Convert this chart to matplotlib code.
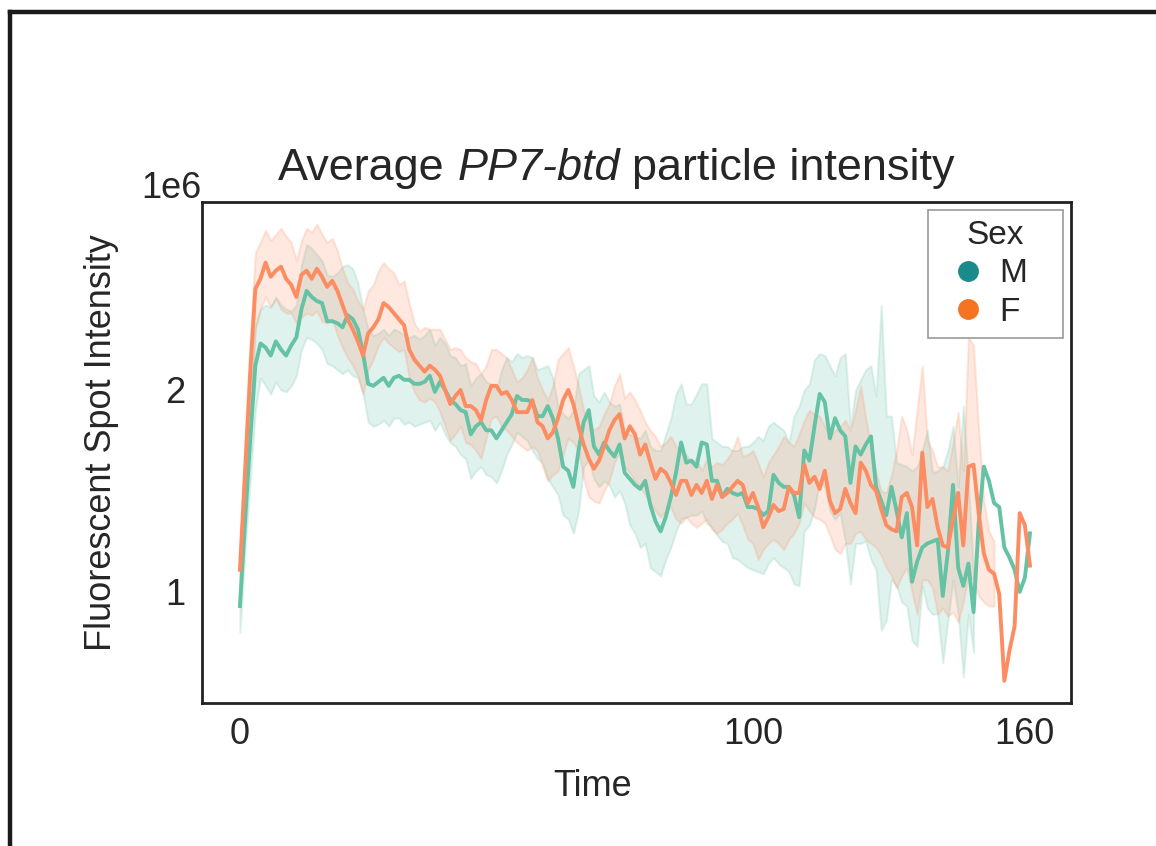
import numpy as np
import matplotlib.pyplot as plt
from matplotlib.lines import Line2D

plt.rcParams['font.family'] = ['Liberation Sans', 'DejaVu Sans']
plt.rcParams['text.color'] = '#262626'
plt.rcParams['axes.labelcolor'] = '#262626'
plt.rcParams['xtick.color'] = '#262626'
plt.rcParams['ytick.color'] = '#262626'

# values in units of 1e6, one per time point
nan = np.nan
time = np.arange(155)

m_mean = [0.93, 1.35, 1.75, 2.12, 2.23, 2.21, 2.17, 2.24, 2.20, 2.17,
          2.22, 2.26, 2.40, 2.49, 2.46, 2.44, 2.43, 2.34, 2.34, 2.33,
          2.31, 2.37, 2.35, 2.30, 2.18, 2.03, 2.02, 2.04, 2.06, 2.02,
          2.06, 2.07, 2.05, 2.05, 2.03, 2.03, 2.04, 2.07, 1.99, 2.04,
          2.00, 1.95, 1.93, 1.90, 1.89, 1.78, 1.82, 1.84, 1.80, 1.80,
          1.76, 1.80, 1.84, 1.88, 1.97, 1.95, 1.95, 1.94, 1.87, 1.87,
          1.92, 1.86, 1.76, 1.62, 1.60, 1.52, 1.70, 1.84, 1.90, 1.72,
          1.68, 1.74, 1.70, 1.67, 1.73, 1.59, 1.56, 1.53, 1.51, 1.55,
          1.43, 1.35, 1.30, 1.37, 1.47, 1.59, 1.74, 1.64, 1.65, 1.62,
          1.74, 1.73, 1.55, 1.55, 1.47, 1.51, 1.49, 1.48, 1.49, 1.42,
          1.42, 1.41, 1.38, 1.40, 1.58, 1.54, 1.52, 1.52, 1.48, 1.37,
          1.70, 1.65, 1.82, 1.98, 1.94, 1.76, 1.86, 1.80, 1.77, 1.54,
          1.72, 1.68, 1.73, 1.77, 1.52, 1.45, 1.38, 1.52, 1.40, 1.27,
          1.39, 1.05, 1.15, 1.22, 1.24, 1.25, 1.26, 0.98, 1.20, 1.53,
          1.12, 1.03, 1.14, 0.90, 1.34, 1.62, 1.55, 1.44, 1.42, 1.22,
          1.17, 1.11, 1.00, 1.07, 1.29]

m_hi = [1.05, 1.50, 1.95, 2.32, 2.40, 2.42, 2.41, 2.46, 2.42, 2.40,
        2.39, 2.42, 2.62, 2.72, 2.70, 2.67, 2.64, 2.57, 2.56, 2.58,
        2.61, 2.62, 2.60, 2.53, 2.40, 2.30, 2.27, 2.28, 2.30, 2.27,
        2.30, 2.29, 2.27, 2.26, 2.27, 2.25, 2.27, 2.30, 2.22, 2.26,
        2.23, 2.17, 2.16, 2.12, 2.13, 2.02, 2.06, 2.08, 2.04, 2.03,
        2.00, 2.10, 2.16, 2.14, 2.18, 2.16, 2.17, 2.16, 2.10, 2.11,
        2.12, 2.06, 1.92, 1.88, 1.86, 1.90, 2.08, 2.10, 2.12, 1.97,
        1.94, 1.99, 1.94, 1.92, 1.93, 1.80, 1.78, 1.77, 1.76, 1.80,
        1.72, 1.70, 1.70, 1.78, 1.86, 1.98, 2.03, 1.93, 1.93, 1.98,
        2.03, 2.03, 1.76, 1.74, 1.72, 1.72, 1.70, 1.70, 1.72, 1.72,
        1.74, 1.77, 1.75, 1.82, 1.84, 1.82, 1.80, 1.74, 1.87, 1.92,
        2.00, 2.03, 2.15, 2.18, 2.17, 2.12, 2.07, 2.16, 2.18, 1.82,
        2.00, 2.05, 2.10, 2.12, 1.97, 2.42, 1.87, 1.87, 1.64, 1.63,
        1.62, 1.60, 1.62, 1.70, 1.80, 1.59, 1.60, 1.62, 1.70, 1.82,
        1.52, 1.92, 1.55, 1.10, nan, nan, nan, nan, nan, nan,
        nan, nan, nan, nan, nan]

m_lo = [0.80, 1.20, 1.55, 1.90, 2.06, 2.02, 1.98, 2.04, 2.00, 1.99,
        2.02, 2.07, 2.20, 2.26, 2.25, 2.23, 2.20, 2.13, 2.12, 2.10,
        2.08, 2.10, 2.07, 2.06, 1.98, 1.84, 1.82, 1.83, 1.85, 1.82,
        1.86, 1.86, 1.83, 1.84, 1.82, 1.83, 1.84, 1.85, 1.80, 1.84,
        1.78, 1.74, 1.72, 1.68, 1.66, 1.56, 1.60, 1.62, 1.58, 1.57,
        1.54, 1.60, 1.68, 1.73, 1.79, 1.77, 1.75, 1.70, 1.66, 1.64,
        1.56, 1.52, 1.48, 1.38, 1.36, 1.29, 1.40, 1.62, 1.65, 1.56,
        1.52, 1.55, 1.53, 1.47, 1.50, 1.44, 1.33, 1.29, 1.22, 1.24,
        1.12, 1.10, 1.08, 1.16, 1.22, 1.30, 1.36, 1.37, 1.38, 1.38,
        1.40, 1.34, 1.32, 1.28, 1.25, 1.24, 1.17, 1.16, 1.14, 1.12,
        1.11, 1.10, 1.09, 1.14, 1.17, 1.14, 1.12, 1.10, 1.04, 1.03,
        1.30, 1.33, 1.41, 1.55, 1.52, 1.40, 1.36, 1.39, 1.25, 1.04,
        1.24, 1.24, 1.25, 1.16, 1.11, 0.81, 0.86, 1.06, 1.03, 0.95,
        0.93, 0.76, 0.73, 1.03, 0.92, 0.89, 0.89, 0.65, 0.86, 1.06,
        0.89, 0.58, 0.89, 0.70, nan, nan, nan, nan, nan, nan,
        nan, nan, nan, nan, nan]

f_mean = [1.11, 1.60, 2.08, 2.50, 2.55, 2.63, 2.56, 2.59, 2.61, 2.55,
          2.52, 2.46, 2.57, 2.59, 2.55, 2.60, 2.56, 2.51, 2.54, 2.49,
          2.42, 2.35, 2.30, 2.24, 2.17, 2.28, 2.31, 2.35, 2.43, 2.41,
          2.38, 2.35, 2.32, 2.20, 2.15, 2.12, 2.09, 2.12, 2.10, 2.07,
          2.00, 1.93, 1.97, 2.00, 1.92, 1.92, 1.90, 1.85, 1.95, 2.02,
          2.02, 1.98, 1.99, 1.95, 1.89, 1.89, 1.89, 1.95, 1.84, 1.82,
          1.76, 1.79, 1.86, 1.95, 2.00, 1.93, 1.82, 1.73, 1.66, 1.61,
          1.65, 1.72, 1.80, 1.85, 1.88, 1.76, 1.82, 1.78, 1.68, 1.73,
          1.64, 1.56, 1.61, 1.59, 1.54, 1.48, 1.55, 1.55, 1.48, 1.53,
          1.49, 1.55, 1.46, 1.53, 1.47, 1.49, 1.52, 1.55, 1.53, 1.44,
          1.49, 1.42, 1.32, 1.37, 1.43, 1.40, 1.41, 1.52, 1.49, 1.49,
          1.63, 1.54, 1.57, 1.51, 1.60, 1.45, 1.39, 1.41, 1.51, 1.44,
          1.39, 1.64, 1.60, 1.53, 1.50, 1.41, 1.33, 1.31, 1.30, 1.47,
          1.49, 1.42, 1.23, 1.69, 1.42, 1.46, 1.32, 1.23, 1.22, 1.36,
          1.49, 1.23, 1.62, 1.63, 1.39, 1.19, 1.11, 1.09, 0.99, 0.56,
          0.71, 0.83, 1.39, 1.33, 1.13]

f_hi = [1.15, 1.75, 2.25, 2.68, 2.73, 2.79, 2.74, 2.77, 2.80, 2.76,
        2.73, 2.64, 2.74, 2.80, 2.78, 2.82, 2.77, 2.73, 2.75, 2.69,
        2.60, 2.53, 2.50, 2.44, 2.40, 2.49, 2.52, 2.59, 2.63, 2.60,
        2.58, 2.52, 2.54, 2.43, 2.33, 2.29, 2.31, 2.30, 2.30, 2.30,
        2.25, 2.20, 2.21, 2.20, 2.16, 2.14, 2.13, 2.08, 2.12, 2.20,
        2.20, 2.18, 2.16, 2.10, 2.04, 2.06, 2.10, 2.16, 2.06, 2.00,
        1.95, 2.02, 2.15, 2.18, 2.21, 2.12, 2.02, 1.90, 1.84, 1.80,
        1.82, 1.88, 1.93, 2.02, 2.08, 1.96, 1.99, 1.95, 1.90, 1.84,
        1.80, 1.77, 1.72, 1.74, 1.77, 1.72, 1.70, 1.68, 1.64, 1.66,
        1.60, 1.66, 1.62, 1.64, 1.63, 1.66, 1.70, 1.77, 1.67, 1.68,
        1.70, 1.64, 1.57, 1.64, 1.68, 1.72, 1.77, 1.74, 1.72, 1.78,
        1.85, 1.90, 1.88, 1.87, 1.82, 1.77, 1.80, 1.82, 1.85, 1.80,
        1.90, 2.02, 1.86, 1.72, 1.59, 1.50, 1.49, 1.58, 1.70, 1.87,
        1.80, 1.68, 1.90, 2.12, 1.75, 1.70, 1.62, 1.62, 1.60, 1.74,
        1.89, 1.60, 2.26, 2.22, 1.80, 1.45, 1.30, 1.25, nan, nan,
        nan, nan, nan, nan, nan]

f_lo = [1.08, 1.45, 1.85, 2.30, 2.40, 2.46, 2.41, 2.45, 2.40, 2.38,
        2.38, 2.33, 2.36, 2.38, 2.37, 2.39, 2.34, 2.33, 2.35, 2.27,
        2.21, 2.16, 2.12, 2.07, 1.98, 2.10, 2.15, 2.22, 2.26, 2.23,
        2.21, 2.19, 2.20, 2.06, 1.99, 1.95, 1.94, 1.96, 1.94, 1.89,
        1.82, 1.75, 1.78, 1.82, 1.74, 1.73, 1.70, 1.66, 1.76, 1.86,
        1.87, 1.82, 1.80, 1.77, 1.74, 1.72, 1.70, 1.72, 1.70, 1.62,
        1.55, 1.58, 1.60, 1.68, 1.76, 1.74, 1.70, 1.56, 1.47, 1.45,
        1.44, 1.50, 1.55, 1.64, 1.69, 1.62, 1.59, 1.55, 1.52, 1.48,
        1.44, 1.40, 1.37, 1.40, 1.42, 1.36, 1.34, 1.37, 1.34, 1.32,
        1.34, 1.36, 1.31, 1.29, 1.31, 1.34, 1.36, 1.39, 1.33, 1.26,
        1.24, 1.16, 1.21, 1.24, 1.26, 1.24, 1.21, 1.26, 1.29, 1.34,
        1.44, 1.40, 1.37, 1.36, 1.34, 1.28, 1.21, 1.19, 1.24, 1.24,
        1.29, 1.30, 1.26, 1.24, 1.22, 1.18, 1.12, 1.08, 1.02, 1.08,
        1.12, 1.00, 0.89, 1.06, 1.06, 1.02, 0.89, 0.92, 0.88, 0.90,
        0.85, 0.95, 1.09, 1.06, 0.98, 0.95, 0.93, 0.93, nan, nan,
        nan, nan, nan, nan, nan]

sexes = ['M', 'F']
line_colors = ['#66c2a5', '#fc8d62']
legend_colors = ['#1b8a8c', '#f47421']
scale = 1e6

fig = plt.figure(figsize=(11.56, 8.46), dpi=100)
ax = fig.add_axes([0.1747, 0.169, 0.7518, 0.5922])

series = [(m_mean, m_lo, m_hi), (f_mean, f_lo, f_hi)]
for (mean, lo, hi), col in zip(series, line_colors):
    ax.plot(time, np.array(mean) * scale, color=col, lw=2.8, zorder=3)
    ax.fill_between(time, np.array(lo) * scale, np.array(hi) * scale,
                    color=col, alpha=0.2, lw=1.5, zorder=2)

ax.set_xlim(-7.4, 162)
ax.set_ylim(0.45e6, 2.93e6)
ax.set_xticks([0, 100, 153])
ax.set_xticklabels(['0', '100', '160'])
ax.set_yticks([1e6, 2e6])
ax.tick_params(length=0, labelsize=26)
ax.tick_params(axis='x', pad=10)
ax.tick_params(axis='y', pad=12)
ot = ax.yaxis.get_offset_text()
ot.set_fontsize(26)
ot.set_ha('right')

for sp in ax.spines.values():
    sp.set_color('#222222')
    sp.set_linewidth(2.0)

ax.set_xlabel('Time', fontsize=26)
ax.xaxis.set_label_coords(0.449, -0.132)
ax.set_ylabel('Fluorescent Spot Intensity', fontsize=26)
ax.yaxis.set_label_coords(-0.096, 0.52)

# title with italic gene name
t1 = ax.text(0.0875, 1.044, 'Average', transform=ax.transAxes, fontsize=32.4, va='baseline')
t2 = ax.annotate('PP7-btd', xy=(1, 0), xycoords=t1, xytext=(9, 0), textcoords='offset points',
                 fontsize=32.4, style='italic', va='bottom')
ax.annotate('particle intensity', xy=(1, 0), xycoords=t2, xytext=(9, 0), textcoords='offset points',
            fontsize=32.4, va='bottom')

handles = [Line2D([], [], ls='none', marker='o', markersize=14, color=c) for c in legend_colors]
leg = ax.legend(handles, sexes, title='Sex', loc='upper left',
                bbox_to_anchor=(0.8354, 0.5, 0.1554, 0.484), mode='expand',
                borderaxespad=0, borderpad=0.3, fontsize=24, title_fontsize=24,
                handlelength=1.8, handletextpad=0.05, labelspacing=0.22,
                fancybox=False, framealpha=1)
leg.get_frame().set_edgecolor('#999999')
leg.get_frame().set_linewidth(1.2)

# figure frame (top and left edges)
fig.add_artist(Line2D([0.0087, 1.0], [0.9858, 0.9858], transform=fig.transFigure,
                      color='#1a1a1a', lw=3.2, solid_capstyle='projecting'))
fig.add_artist(Line2D([0.0087, 0.0087], [0.0, 0.9858], transform=fig.transFigure,
                      color='#1a1a1a', lw=3.2, solid_capstyle='projecting'))

fig.savefig('out.png', dpi=100)
